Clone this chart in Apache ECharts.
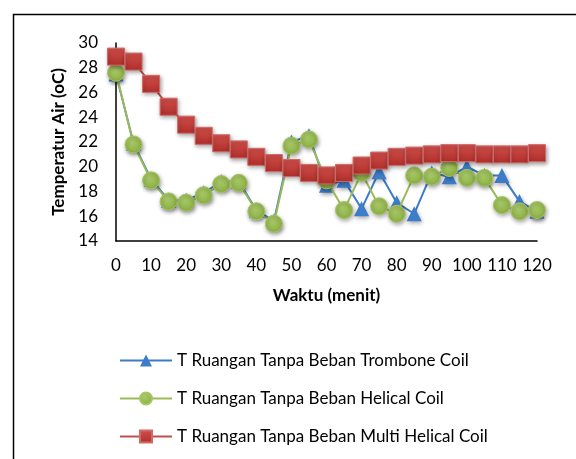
<!DOCTYPE html>
<html><head><meta charset="utf-8">
<script src="https://cdn.jsdelivr.net/npm/echarts@6/dist/echarts.min.js"></script>
<style>html,body{margin:0;padding:0;background:#fff}#c{width:576px;height:459px}</style>
</head><body><div id="c"></div>
<script>
const categories = [0,5,10,15,20,25,30,35,40,45,50,55,60,65,70,75,80,85,90,95,100,105,110,115,120];
const trombone = [27.5,21.9,19.0,17.3,17.3,17.9,18.8,18.8,16.5,15.6,22.0,22.5,18.5,18.9,16.6,19.6,17.1,16.2,19.5,19.2,20.0,19.3,19.3,17.2,16.4];
const helical = [27.6,21.8,18.9,17.2,17.1,17.7,18.6,18.7,16.4,15.4,21.7,22.2,18.9,16.5,19.5,16.8,16.2,19.3,19.2,19.9,19.1,19.1,16.9,16.4,16.5];
const multiHelical = [28.9,28.5,26.7,24.85,23.4,22.5,21.9,21.4,20.8,20.3,19.9,19.5,19.3,19.5,20.1,20.5,20.8,20.9,21.0,21.1,21.1,21.0,21.0,21.0,21.1];
const seriesNames = ['T Ruangan Tanpa Beban Trombone Coil','T Ruangan Tanpa Beban Helical Coil','T Ruangan Tanpa Beban Multi Helical Coil'];
const yTicks = {min:14,max:30,interval:2};

const font = 'Lato, "Open Sans", sans-serif';
const chart = echarts.init(document.getElementById('c'), null, {renderer:'canvas'});
const shadow = {shadowColor:'rgba(0,0,0,0.35)', shadowBlur:4, shadowOffsetX:1, shadowOffsetY:2};
chart.setOption({
  animation:false,
  backgroundColor:'#fff',
  graphic:[{type:'polyline',shape:{points:[[13.5,459],[13.5,14.5],[576,14.5]]},style:{stroke:'#000',lineWidth:1.5,fill:null}}],
  grid:{left:116,right:39,top:43,bottom:218,containLabel:false},
  legend:{
    orient:'vertical', left:114, top:347, itemWidth:52, itemHeight:15, itemGap:21,
    textStyle:{fontFamily:font,fontSize:17,color:'#000'},
    data:seriesNames
  },
  xAxis:{
    type:'category', data:categories, boundaryGap:false,
    axisLine:{lineStyle:{color:'#000',width:1.5}},
    axisTick:{show:false},
    axisLabel:{interval:1,color:'#000',fontFamily:font,fontSize:17,margin:16},
    name:'Waktu (menit)', nameLocation:'middle', nameGap:46,
    nameTextStyle:{fontFamily:font,fontSize:17,fontWeight:'bold',color:'#000'}
  },
  yAxis:{
    type:'value', min:yTicks.min, max:yTicks.max, interval:yTicks.interval,
    axisLine:{show:true,lineStyle:{color:'#000',width:1.5}},
    axisTick:{show:false},
    splitLine:{show:false},
    axisLabel:{color:'#000',fontFamily:font,fontSize:17,margin:18},
    name:'Temperatur Air (oC)', nameLocation:'middle', nameGap:45,
    nameTextStyle:{fontFamily:font,fontSize:17,fontWeight:'bold',color:'#000'}
  },
  series:[
    {name:seriesNames[0],type:'line',data:trombone,symbol:'triangle',symbolSize:15,showAllSymbol:true,
     lineStyle:{color:'#3D7CC9',width:2},itemStyle:Object.assign({color:'#3D7CC9'},shadow),z:3},
    {name:seriesNames[1],type:'line',data:helical,symbol:'circle',symbolSize:17,showAllSymbol:true,
     lineStyle:{color:'#9BBB59',width:2},itemStyle:Object.assign({color:new echarts.graphic.RadialGradient(0.4,0.35,0.7,[{offset:0,color:'#A9C96A'},{offset:1,color:'#8AAE3F'}]),borderColor:'#A6C565',borderWidth:1},shadow),z:4},
    {name:seriesNames[2],type:'line',data:multiHelical,symbol:'rect',symbolSize:17,showAllSymbol:true,
     lineStyle:{color:'#C0504D',width:2},itemStyle:Object.assign({color:new echarts.graphic.LinearGradient(0,0,0,1,[{offset:0,color:'#D2504C'},{offset:1,color:'#B02E2A'}]),borderColor:'#D06A67',borderWidth:1},shadow),z:5}
  ]
});
</script></body></html>
